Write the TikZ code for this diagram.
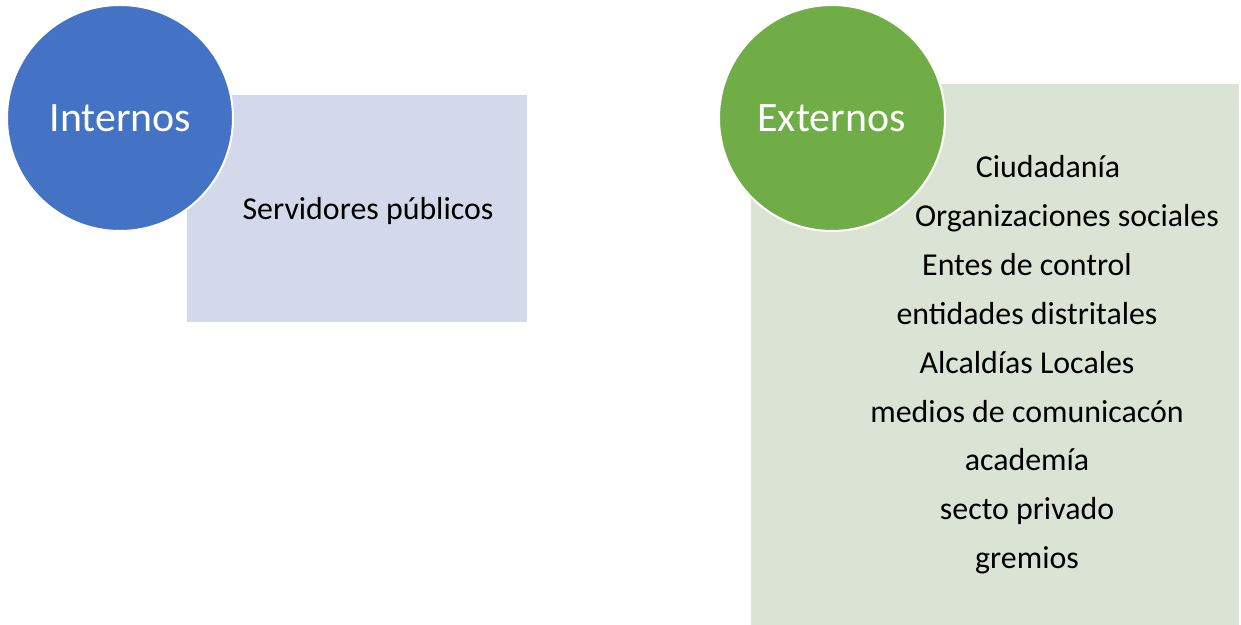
\documentclass[tikz,border=0pt]{standalone}
\usepackage{fontspec}
\setmainfont{Carlito}
\definecolor{blueC}{HTML}{4472C4}
\definecolor{blueR}{HTML}{D3D9EB}
\definecolor{greenC}{HTML}{70AD47}
\definecolor{greenR}{HTML}{DAE3D4}
\tikzset{
  circ/.style={circle, draw=white, line width=2bp, minimum size=226bp, inner sep=0pt},
  ctext/.style={anchor=base, text=white, font=\fontsize{42}{50}\selectfont, inner sep=0pt},
  itemtext/.style={anchor=base, text=black, font=\fontsize{32}{38}\selectfont, inner sep=0pt}
}
\begin{document}
\begin{tikzpicture}[x=1bp,y=-1bp]
\useasboundingbox (0,0) rectangle (1241,625);
% left group
\fill[blueR] (187,95) rectangle (527,322);
\node[circ, fill=blueC] (cint) at (120,118) {};
\node[ctext] (tint) at (120.5,132) {Internos};
\node[itemtext] (serv) at (368,219.5) {Servidores públicos};
% right group
\fill[greenR] (751,84) rectangle (1239,625);
\node[circ, fill=greenC] (cext) at (832,118) {};
\node[ctext] (text) at (831.5,132) {Externos};
\node[itemtext] (l1) at (1048,178) {Ciudadanía};
\node[itemtext] (l2) at (1067,226.8) {Organizaciones sociales};
\node[itemtext] (l3) at (1027,275.6) {Entes de control};
\node[itemtext] (l4) at (1027,324.4) {entidades distritales};
\node[itemtext] (l5) at (1027,373.2) {Alcaldías Locales};
\node[itemtext] (l6) at (1027,422) {medios de comunicacón};
\node[itemtext] (l7) at (1027,470.8) {academía};
\node[itemtext] (l8) at (1027,519.6) {secto privado};
\node[itemtext] (l9) at (1027,568.4) {gremios};
\end{tikzpicture}
\end{document}
